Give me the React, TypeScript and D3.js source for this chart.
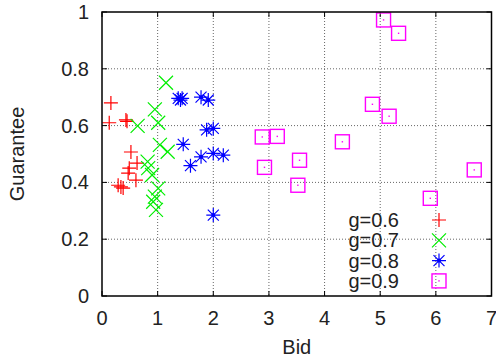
import React from "react";
import * as d3 from "d3";

// g = 0.6
const redBid = [0.16, 0.13, 0.43, 0.45, 0.52, 0.63, 0.49, 0.47, 0.61, 0.29, 0.38, 0.34];
const redGuar = [0.68, 0.61, 0.62, 0.615, 0.507, 0.468, 0.45, 0.433, 0.408, 0.39, 0.38, 0.384];
// g = 0.7
const greenBid = [1.15, 0.95, 0.64, 1.01, 1.04, 1.18, 0.82, 0.83, 0.9, 1.01, 0.95, 0.92, 0.97];
const greenGuar = [0.751, 0.657, 0.599, 0.61, 0.532, 0.508, 0.473, 0.45, 0.426, 0.379, 0.35, 0.332, 0.303];
// g = 0.8
const blueBid = [1.37, 1.44, 1.41, 1.78, 1.91, 1.88, 2.0, 1.46, 1.78, 2.0, 2.18, 1.59, 2.0];
const blueGuar = [0.696, 0.696, 0.69, 0.7, 0.69, 0.585, 0.59, 0.534, 0.49, 0.502, 0.496, 0.459, 0.285];
// g = 0.9
const magBid = [5.06, 5.33, 4.86, 5.16, 2.88, 3.15, 4.32, 2.92, 3.55, 3.52, 6.69, 5.9];
const magGuar = [0.972, 0.925, 0.675, 0.633, 0.56, 0.562, 0.543, 0.453, 0.478, 0.39, 0.444, 0.344];

const seriesLabels = ["g=0.6", "g=0.7", "g=0.8", "g=0.9"];
const xTicks = [0, 1, 2, 3, 4, 5, 6, 7];
const yTicks = [0, 0.2, 0.4, 0.6, 0.8, 1];

const W = 496;
const H = 360;
const left = 102;
const right = 491.5;
const top = 12;
const bottom = 296;
const font = "'Liberation Sans', Arial, sans-serif";
const fontSize = 20;
const textColor = "#222";

const series = [
  { xs: redBid, ys: redGuar, color: "#ff0000", shape: "plus" },
  { xs: greenBid, ys: greenGuar, color: "#00ee00", shape: "cross" },
  { xs: blueBid, ys: blueGuar, color: "#0000ff", shape: "star" },
  { xs: magBid, ys: magGuar, color: "#ff00ff", shape: "square" },
];

function Marker({ x, y, shape, color }: { x: number; y: number; shape: string; color: string }) {
  const s = 7;
  const d = 5.5;
  if (shape === "plus") {
    return (
      <path d={`M${x - s},${y}H${x + s}M${x},${y - s}V${y + s}`} stroke={color} strokeWidth={1.2} fill="none" />
    );
  }
  if (shape === "cross") {
    return (
      <path
        d={`M${x - s},${y - s}L${x + s},${y + s}M${x - s},${y + s}L${x + s},${y - s}`}
        stroke={color}
        strokeWidth={1.2}
        fill="none"
      />
    );
  }
  if (shape === "star") {
    return (
      <g>
        <path
          d={`M${x - s},${y}H${x + s}M${x},${y - s}V${y + s}M${x - d},${y - d}L${x + d},${y + d}M${x - d},${y + d}L${x + d},${y - d}`}
          stroke={color}
          strokeWidth={1.2}
          fill="none"
        />
        <circle cx={x} cy={y} r={2} fill={color} />
      </g>
    );
  }
  return (
    <g>
      <rect x={x - s} y={y - s} width={2 * s} height={2 * s} stroke={color} strokeWidth={1.4} fill="none" />
      <rect x={x - 0.7} y={y - 0.7} width={1.4} height={1.4} fill={color} />
    </g>
  );
}

export default function App() {
  const x = d3.scaleLinear().domain([0, 7]).range([left, right]);
  const y = d3.scaleLinear().domain([0, 1]).range([bottom, top]);
  const fmt = d3.format("");

  return (
    <svg width={W} height={H} style={{ position: "absolute", left: 0, top: 0, background: "#fff" }}>
      {/* grid */}
      {xTicks.slice(1, -1).map((t) => (
        <line key={"gx" + t} x1={x(t)} x2={x(t)} y1={top} y2={bottom} stroke="#666" strokeDasharray="1,2" />
      ))}
      {yTicks.slice(1, -1).map((t) => (
        <line key={"gy" + t} x1={left} x2={right} y1={y(t)} y2={y(t)} stroke="#666" strokeDasharray="1,2" />
      ))}
      {/* ticks, mirrored */}
      {xTicks.map((t) => (
        <g key={"tx" + t}>
          <line x1={x(t)} x2={x(t)} y1={bottom} y2={bottom - 5} stroke="#000" />
          <line x1={x(t)} x2={x(t)} y1={top} y2={top + 5} stroke="#000" />
          <text x={x(t)} y={325} textAnchor="middle" fontFamily={font} fontSize={fontSize} fill={textColor}>
            {fmt(t)}
          </text>
        </g>
      ))}
      {yTicks.map((t) => (
        <g key={"ty" + t}>
          <line x1={left} x2={left + 5} y1={y(t)} y2={y(t)} stroke="#000" />
          <line x1={right} x2={right - 5} y1={y(t)} y2={y(t)} stroke="#000" />
          <text x={89} y={y(t) + 7} textAnchor="end" fontFamily={font} fontSize={fontSize} fill={textColor}>
            {fmt(t)}
          </text>
        </g>
      ))}
      {/* points */}
      {series.map((s, si) =>
        s.xs.map((v, i) => <Marker key={si + "-" + i} x={x(v)} y={y(s.ys[i])} shape={s.shape} color={s.color} />)
      )}
      {/* legend */}
      {seriesLabels.map((lab, i) => {
        const cy = 220 + i * 20.3;
        return (
          <g key={lab}>
            <text x={399} y={cy + 7} textAnchor="end" fontFamily={font} fontSize={fontSize} fill={textColor}>
              {lab}
            </text>
            <Marker x={439} y={cy} shape={series[i].shape} color={series[i].color} />
          </g>
        );
      })}
      {/* border */}
      <rect x={left} y={top} width={right - left} height={bottom - top} fill="none" stroke="#000" strokeWidth={1.5} />
      {/* axis titles */}
      <text x={(left + right) / 2} y={354} textAnchor="middle" fontFamily={font} fontSize={fontSize} fill={textColor}>
        Bid
      </text>
      <text
        transform={`translate(24,${(top + bottom) / 2}) rotate(-90)`}
        textAnchor="middle"
        fontFamily={font}
        fontSize={fontSize}
        fill={textColor}
      >
        Guarantee
      </text>
    </svg>
  );
}
